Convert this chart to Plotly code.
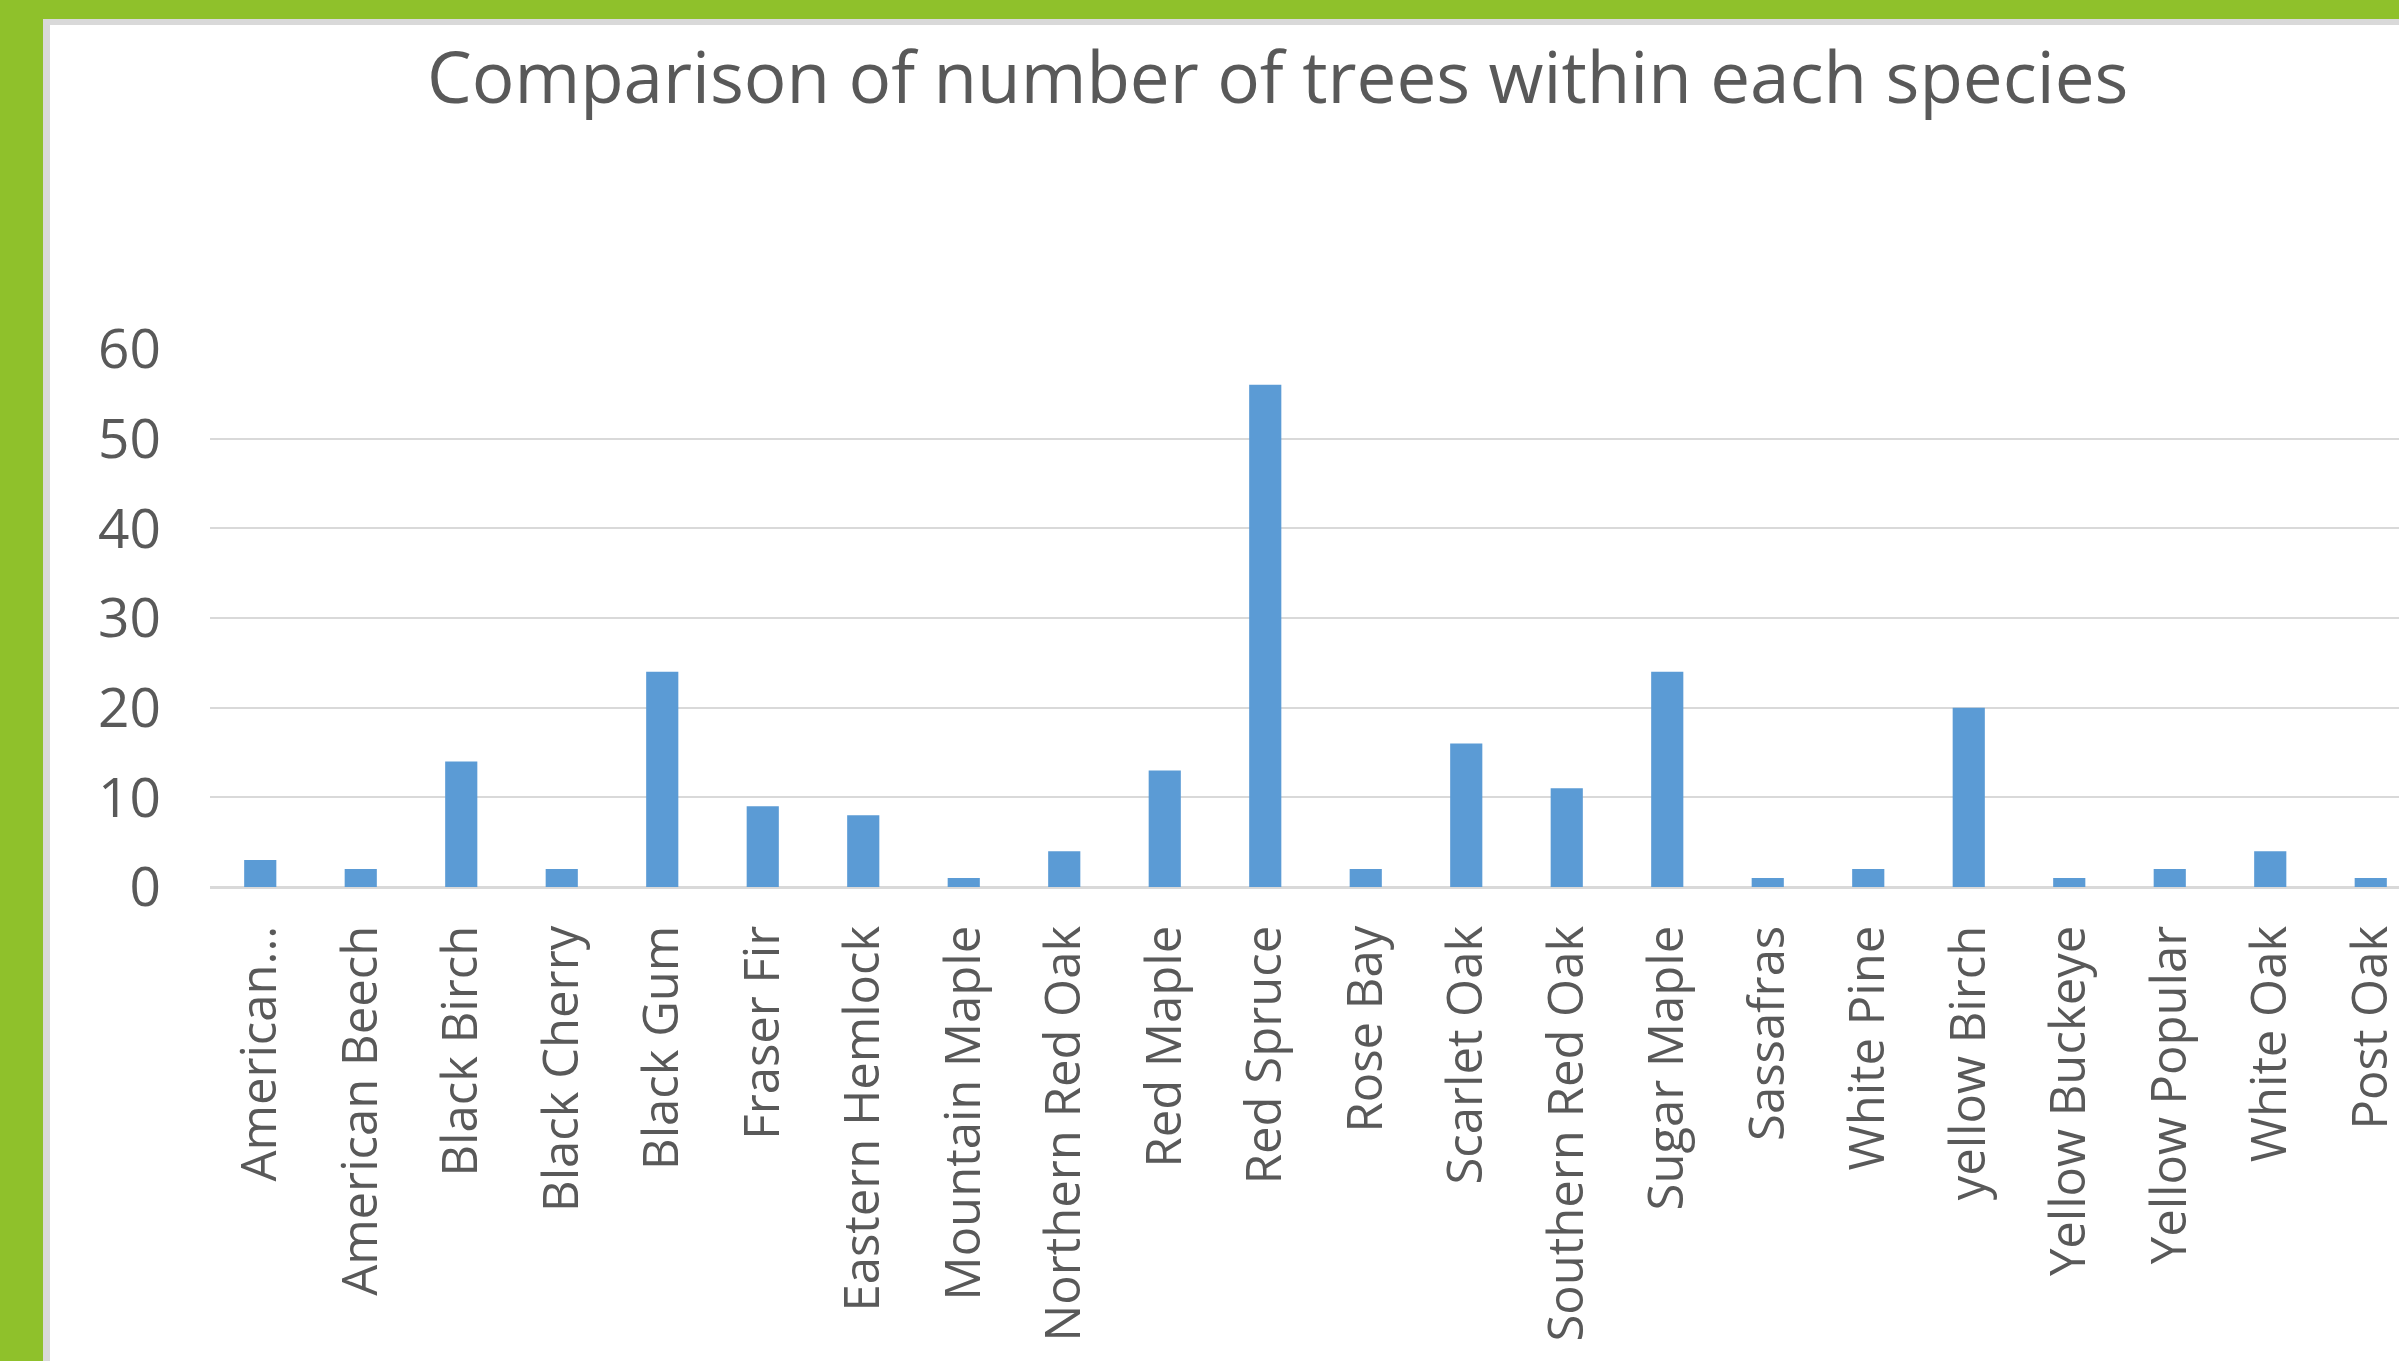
import plotly.graph_objects as go

species = ["American...", "American Beech", "Black Birch", "Black Cherry", "Black Gum",
           "Fraser Fir", "Eastern Hemlock", "Mountain Maple", "Northern Red Oak", "Red Maple",
           "Red Spruce", "Rose Bay", "Scarlet Oak", "Southern Red Oak", "Sugar Maple",
           "Sassafras", "White Pine", "yellow Birch", "Yellow Buckeye", "Yellow Popular",
           "White Oak", "Post Oak"]
counts = [3, 2, 14, 2, 24, 9, 8, 1, 4, 13, 56, 2, 16, 11, 24, 1, 2, 20, 1, 2, 4, 1]
y_ticks = [0, 10, 20, 30, 40, 50, 60]
title_text = "Comparison of number of trees within each species"

W, H = 2399, 1361
L, R, T, B = 210, 0, 349, 1361 - 887
pw, ph = W - L - R, H - T - B

def px(xp):
    return (xp - L) / pw

def py(yp):
    return (H - B - yp) / ph

FONT = "Open Sans"
TXT = "#595959"
GRID = "#d9d9d9"

fig = go.Figure(go.Bar(x=list(range(len(species))), y=counts, marker_color="#5B9BD5",
                       marker_line_width=0))

fig.update_layout(
    width=W, height=H,
    margin=dict(l=L, r=R, t=T, b=B, pad=0),
    paper_bgcolor="#8FC12B",
    plot_bgcolor="rgba(0,0,0,0)",
    bargap=0.68,
    showlegend=False,
    font=dict(family=FONT, color=TXT),
    shapes=[
        dict(type="rect", xref="paper", yref="paper", layer="below",
             x0=px(43), x1=px(W + 10), y0=py(19), y1=py(H + 10),
             fillcolor=GRID, line_width=0),
        dict(type="rect", xref="paper", yref="paper", layer="below",
             x0=px(50), x1=px(W + 10), y0=py(25), y1=py(H + 10),
             fillcolor="white", line_width=0),
    ],
    annotations=[
        dict(text=title_text, xref="paper", yref="paper", x=px(1277), y=py(75),
             xanchor="center", yanchor="middle", showarrow=False,
             font=dict(size=71, family=FONT, color=TXT)),
    ],
)

fig.update_xaxes(
    range=[-0.5, -0.5 + pw / 100.5],
    tickmode="array", tickvals=list(range(len(species))), ticktext=species,
    tickangle=-90, tickfont=dict(size=49, family=FONT, color=TXT),
    showgrid=False, zeroline=False, showline=False, ticks="",
    ticklabelstandoff=28, ticklabeloverflow="allow", automargin=False,
)
fig.update_yaxes(
    range=[0, 60], tickmode="array", tickvals=y_ticks,
    tickfont=dict(size=55, family=FONT, color=TXT),
    showgrid=True, gridcolor=GRID, gridwidth=2,
    zeroline=True, zerolinecolor=GRID, zerolinewidth=3,
    showline=False, ticks="", ticklabelstandoff=48, automargin=False,
)

fig.write_html("out.html")
